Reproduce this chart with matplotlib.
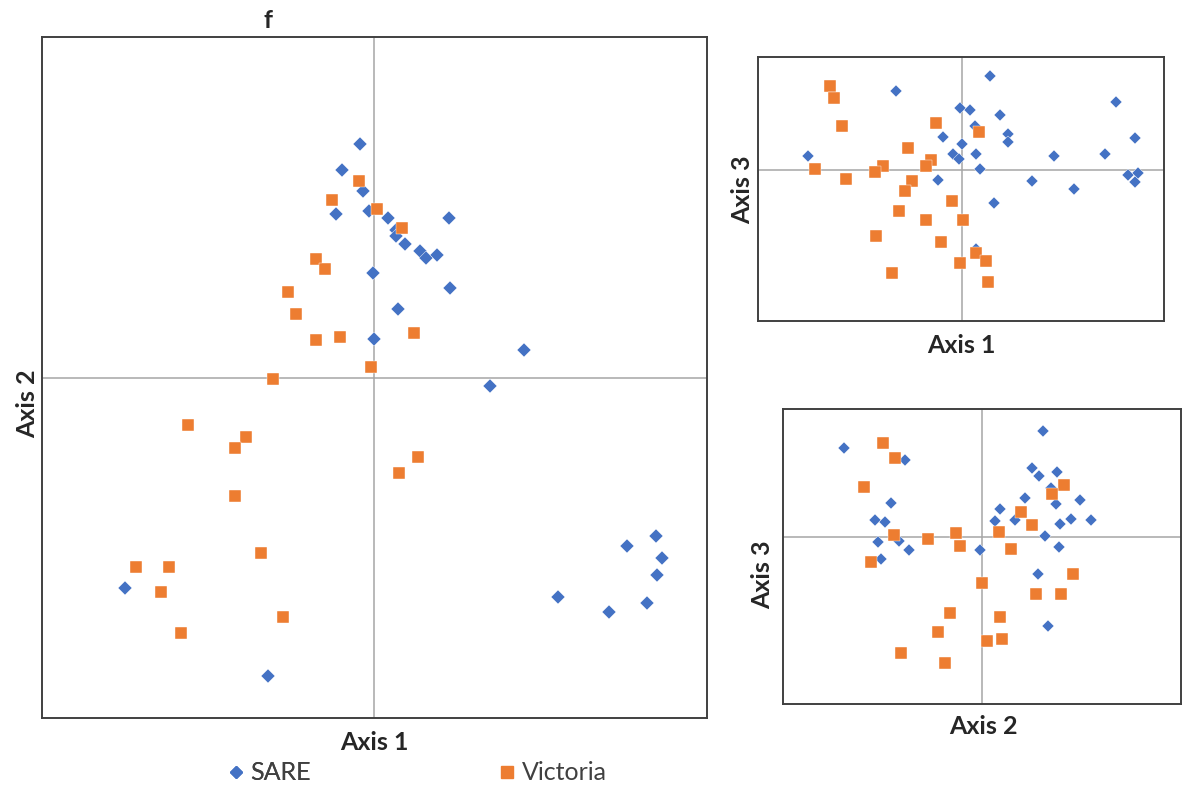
import matplotlib
matplotlib.use('Agg')
from matplotlib import pyplot as plt
from matplotlib.lines import Line2D

# main panel: Axis 1 vs Axis 2
sare_ax1 = [-1.4, -3.2, -1.1, -3.8, -0.5, 1.4, 7.5, 2.2, 2.2, 3.1, 4.6, 5.2, 6.3, -0.1,
            7.6, 2.4, 0.0, 15.0, 11.6, -24.9, -10.6, 28.2, 25.3, 28.8, 28.3, 18.4, 27.3, 23.5]
sare_ax2 = [23.4, 20.8, 18.7, 16.4, 16.7, 16.0, 16.0, 14.8, 14.2, 13.4, 12.7, 12.0, 12.3, 10.5,
            9.0, 6.9, 3.9, 2.8, -0.8, -21.0, -29.8, -15.8, -16.8, -18.0, -19.7, -21.9, -22.5, -23.4]
vic_ax1 = [-1.5, -4.2, 0.3, 2.8, -5.8, -4.9, -8.6, -7.8, -5.8, -3.4, 4.0, -0.3, -10.1,
           -18.6, -12.8, -13.9, -13.9, 4.4, 2.5, -11.3, -23.8, -20.5, -21.3, -9.1, -19.3]
vic_ax2 = [19.7, 17.8, 16.9, 15.0, 11.9, 10.9, 8.6, 6.4, 3.8, 4.1, 4.5, 1.1, -0.1,
           -4.7, -5.9, -7.0, -11.8, -7.9, -9.5, -17.5, -18.9, -18.9, -21.4, -23.9, -25.5]

# top right: Axis 1 vs Axis 3
sare_b1 = [2.8, -6.6, 15.4, -0.2, 0.8, 3.8, 1.3, 17.3, -1.9, 4.6, 4.6, 0.0, -0.9, -0.3,
           1.4, 9.2, 14.3, -15.4, 1.8, -2.4, 7.0, 11.2, 16.6, 17.6, 17.3, 3.2, 1.4]
sare_b3 = [9.4, 7.9, 6.8, 6.2, 6.0, 5.5, 4.4, 3.2, 3.3, 3.6, 2.8, 2.6, 1.6, 1.1,
           1.6, 1.4, 1.6, 1.4, 0.1, -1.0, -1.1, -2.0, -0.5, -0.3, -1.2, -3.4, -8.0]
vic_b1 = [-13.2, -12.8, -12.0, -2.6, 1.7, -5.4, -3.1, -3.6, -7.9, -8.7, -14.7, -11.6, -5.0,
          -5.7, -1.0, -6.3, -3.6, 0.1, -8.6, -2.1, 1.4, 2.4, -0.2, -7.0, 2.6]
vic_b3 = [8.4, 7.2, 4.4, 4.7, 3.8, 2.2, 1.0, 0.4, 0.4, -0.2, 0.1, -0.9, -1.1,
          -2.2, -3.2, -4.2, -5.1, -5.1, -6.7, -7.3, -8.4, -9.2, -9.4, -10.4, -11.3]

# bottom right: Axis 2 vs Axis 3
sare_c2 = [6.1, -13.9, -7.8, 5.0, 5.7, 7.5, 6.9, 7.4, 9.8, 4.3, -9.2, 1.8, -10.8, -9.8,
           1.3, 3.3, 7.8, 8.9, 10.9, 6.3, -10.5, -8.4, -7.4, -10.2, -0.3, 7.7, 5.6, 6.6]
sare_c3 = [10.6, 8.9, 7.7, 6.9, 6.1, 6.5, 4.9, 3.3, 3.7, 3.9, 3.4, 2.8, 1.7, 1.5,
           1.6, 1.7, 1.3, 1.8, 1.7, 0.1, -0.5, -0.4, -1.3, -2.2, -1.3, -1.0, -3.7, -8.9]
vic_c2 = [-10.0, -8.8, -11.9, 8.2, 7.0, 3.9, 5.0, 1.7, -8.9, -5.5, -2.7, -2.3, 2.9,
          -11.2, -0.1, 9.1, 5.4, 7.9, -3.3, 1.8, -4.5, 0.5, 2.0, -8.2, -3.8]
vic_c3 = [9.4, 7.9, 5.0, 5.2, 4.3, 2.5, 1.2, 0.5, 0.2, -0.2, 0.4, -0.9, -1.2,
          -2.5, -4.6, -3.7, -5.7, -5.7, -7.6, -8.0, -9.5, -10.4, -10.2, -11.6, -12.6]

BLUE = '#4472C4'
ORANGE = '#ED7D31'
W, H = 1192, 796


def box(l, t, r, b):
    return [l / W, 1 - b / H, (r - l) / W, (b - t) / H]


def fx(x):
    return x / W


def fy(y):
    return 1 - y / H


def panel(ax, sx, sy, vx, vy, xlim, ylim, ms_d=6.5, ms_s=8.2):
    ax.axhline(0, color='#A6A6A6', lw=1.1, zorder=1)
    ax.axvline(0, color='#A6A6A6', lw=1.1, zorder=1)
    ax.plot(sx, sy, 'D', color=BLUE, ms=ms_d, mec='white', mew=0.3, ls='none', zorder=3)
    ax.plot(vx, vy, 's', color=ORANGE, ms=ms_s, mec='white', mew=0.3, ls='none', zorder=3)
    ax.set_xlim(*xlim)
    ax.set_ylim(*ylim)
    ax.set_xticks([]), ax.set_yticks([])
    for s in ax.spines.values():
        s.set_color('#404040')
        s.set_linewidth(1.4)


plt.rcParams['font.family'] = ['Lato', 'DejaVu Sans']
fig = plt.figure(figsize=(W / 100, H / 100), dpi=100)

ax = fig.add_axes(box(42, 37, 707, 718))
panel(ax, sare_ax1, sare_ax2, vic_ax1, vic_ax2, (-33.2, 33.3), (-34.0, 34.1), 7.2, 8.6)

ax2 = fig.add_axes(box(758, 57, 1164, 321))
panel(ax2, sare_b1, sare_b3, vic_b1, vic_b3, (-20.4, 20.2), (-15.2, 11.3), 6.5, 8.0)

ax3 = fig.add_axes(box(783, 409, 1181, 704))
panel(ax3, sare_c2, sare_c3, vic_c2, vic_c3, (-20.0, 19.9), (-16.7, 12.8), 6.5, 8.0)

lab = dict(fontsize=18, fontweight='bold', color='#262626', ha='center', va='center')
fig.text(fx(268), fy(21), 'f', **lab)
fig.text(fx(374), fy(743), 'Axis 1', **lab)
fig.text(fx(28), fy(404), 'Axis 2', rotation=90, **lab)
fig.text(fx(961), fy(345), 'Axis 1', **lab)
fig.text(fx(743), fy(190), 'Axis 3', rotation=90, **lab)
fig.text(fx(983), fy(727), 'Axis 2', **lab)
fig.text(fx(763), fy(575), 'Axis 3', rotation=90, **lab)

leg_kw = dict(loc='center left', frameon=False, fontsize=18, borderpad=0,
              handletextpad=0.08, handlelength=1.0, labelcolor='#404040')
leg1 = fig.legend([Line2D([], [], marker='D', color=BLUE, ls='none', ms=6)], ['SARE'],
                  bbox_to_anchor=(fx(211), fy(773)), **leg_kw)
fig.legend([Line2D([], [], marker='s', color=ORANGE, ls='none', ms=8)], ['Victoria'],
           bbox_to_anchor=(fx(482), fy(773)), **leg_kw)
fig.add_artist(leg1)

fig.savefig('out.png', dpi=100)
